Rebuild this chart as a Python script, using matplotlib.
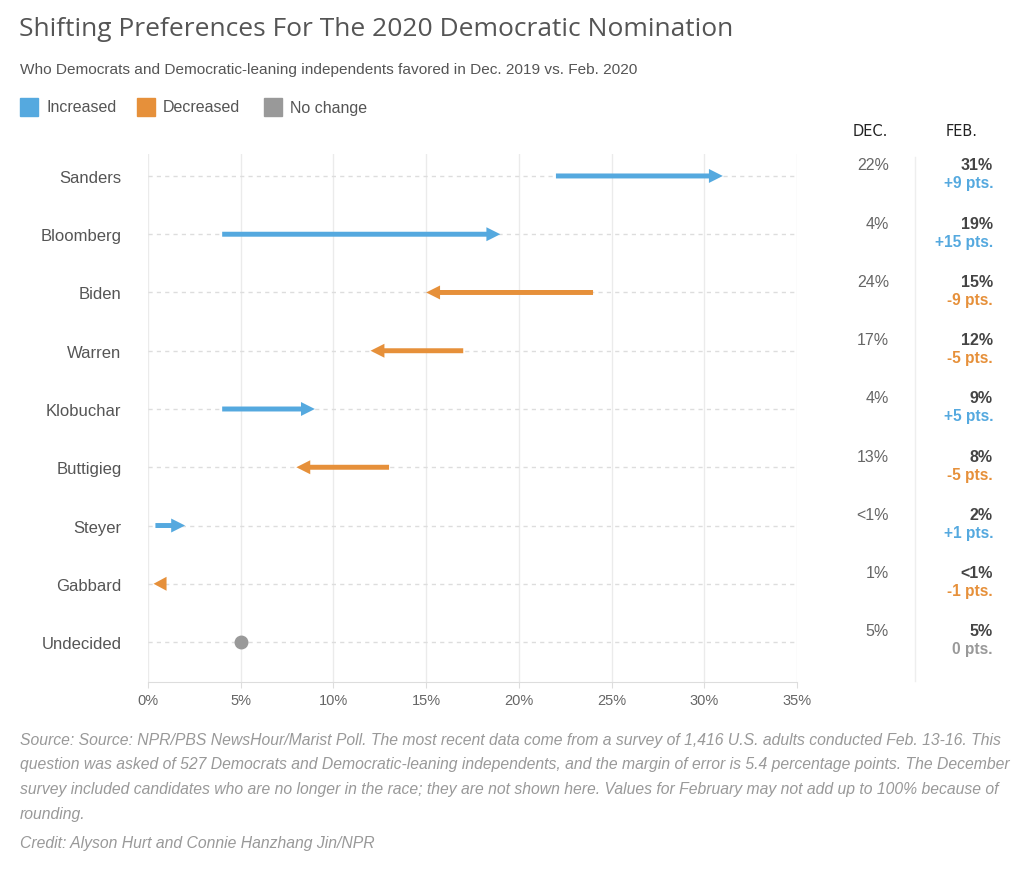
import matplotlib
matplotlib.use('Agg')
import matplotlib.pyplot as plt

# data
names = ['Sanders', 'Bloomberg', 'Biden', 'Warren', 'Klobuchar',
         'Buttigieg', 'Steyer', 'Gabbard', 'Undecided']
dec = [22, 4, 24, 17, 4, 13, 0.4, 1, 5]
feb = [31, 19, 15, 12, 9, 8, 2, 0.3, 5]
dec_lbl = ['22%', '4%', '24%', '17%', '4%', '13%', '<1%', '1%', '5%']
feb_lbl = ['31%', '19%', '15%', '12%', '9%', '8%', '2%', '<1%', '5%']
chg_lbl = ['+9 pts.', '+15 pts.', '-9 pts.', '-5 pts.', '+5 pts.',
           '-5 pts.', '+1 pts.', '-1 pts.', '0 pts.']
xticks = [0, 5, 10, 15, 20, 25, 30, 35]

BLUE = '#55a9df'
ORANGE = '#e6903a'
GRAY = '#999999'

W, H = 1024, 879
fig = plt.figure(figsize=(W / 100, H / 100), dpi=100)

def fx(x):
    return x / W

def fy(y):
    return 1 - y / H

ax = fig.add_axes([fx(148), fy(683), fx(797) - fx(148), fy(155) - fy(683)])
ax.set_xlim(0, 35)
ax.set_ylim(len(names) - 1 + 0.686, -0.377)

for i, (a, b) in enumerate(zip(dec, feb)):
    ax.axhline(i, color='#dddddd', lw=1, ls=(0, (3, 3)), zorder=1)
    if a == b:
        ax.plot(b, i, 'o', ms=9, color=GRAY, zorder=3)
        continue
    col = BLUE if b > a else ORANGE
    hl = min(0.75, abs(b - a))
    ax.arrow(a, i, b - a, 0, width=0.085, head_width=0.24, head_length=hl,
             length_includes_head=True, color=col, lw=0, zorder=3)

for t in xticks:
    ax.axvline(t, color='#ebebeb', lw=1, zorder=0)
ax.set_xticks(xticks)
ax.set_xticklabels([f'{t}%' for t in xticks], fontsize=10.5, color='#666666',
                   family='Liberation Sans')
ax.set_yticks(range(len(names)))
ax.set_yticklabels(names, fontsize=12, color='#555555', family='Liberation Sans')
ax.tick_params(axis='y', length=0, pad=19)
ax.tick_params(axis='x', length=4, color='#dddddd', pad=4)
for s in ['top', 'right', 'left']:
    ax.spines[s].set_visible(False)
ax.spines['bottom'].set_color('#dddddd')

# right-hand table
fig.text(fx(888), fy(132), 'DEC.', ha='right', va='center', fontsize=10.5,
         color='#222222', family='DejaVu Sans')
fig.text(fx(962), fy(132), 'FEB.', ha='center', va='center', fontsize=10.5,
         color='#222222', family='DejaVu Sans')
fig.add_artist(plt.Line2D([fx(915), fx(915)], [fy(158), fy(682)],
                          color='#eeeeee', lw=1))
row_px = [177 + i * 58.25 for i in range(len(names))]
for i in range(len(names)):
    yy = row_px[i]
    col = BLUE if feb[i] > dec[i] else (ORANGE if feb[i] < dec[i] else GRAY)
    fig.text(fx(889), fy(yy - 11), dec_lbl[i], ha='right', va='center',
             fontsize=11.5, color='#666666', family='Liberation Sans')
    fig.text(fx(993), fy(yy - 11), feb_lbl[i], ha='right', va='center',
             fontsize=11.5, color='#444444', family='Liberation Sans',
             fontweight='bold')
    fig.text(fx(993), fy(yy + 7), chg_lbl[i], ha='right', va='center',
             fontsize=11.2, color=col, family='Liberation Sans',
             fontweight='bold')

# header
fig.text(fx(19), fy(29), 'Shifting Preferences For The 2020 Democratic Nomination',
         ha='left', va='center', fontsize=19, color='#555555', family='Open Sans')
fig.text(fx(20), fy(70), 'Who Democrats and Democratic-leaning independents favored in Dec. 2019 vs. Feb. 2020',
         ha='left', va='center', fontsize=11.1, color='#555555', family='Liberation Sans')

legend = [('Increased', BLUE, 20), ('Decreased', ORANGE, 137), ('No change', GRAY, 264)]
for lbl, col, x0 in legend:
    fig.patches.append(plt.Rectangle((fx(x0), fy(117)), fx(18), fy(99) - fy(117),
                                     transform=fig.transFigure, color=col))
    fig.text(fx(x0 + 26), fy(108), lbl, ha='left', va='center', fontsize=11.5,
             color='#555555', family='Liberation Sans')

# footer
foot = [
    'Source: Source: NPR/PBS NewsHour/Marist Poll. The most recent data come from a survey of 1,416 U.S. adults conducted Feb. 13-16. This',
    'question was asked of 527 Democrats and Democratic-leaning independents, and the margin of error is 5.4 percentage points. The December',
    'survey included candidates who are no longer in the race; they are not shown here. Values for February may not add up to 100% because of',
    'rounding.',
]
for k, line in enumerate(foot):
    fig.text(fx(20), fy(740 + k * 25), line, ha='left', va='center', fontsize=11.3,
             color='#999999', family='Liberation Sans', style='italic')
fig.text(fx(20), fy(844), 'Credit: Alyson Hurt and Connie Hanzhang Jin/NPR', ha='left',
         va='center', fontsize=11.3, color='#999999', family='Liberation Sans',
         style='italic')

fig.savefig('out.png', dpi=100, facecolor='white')
